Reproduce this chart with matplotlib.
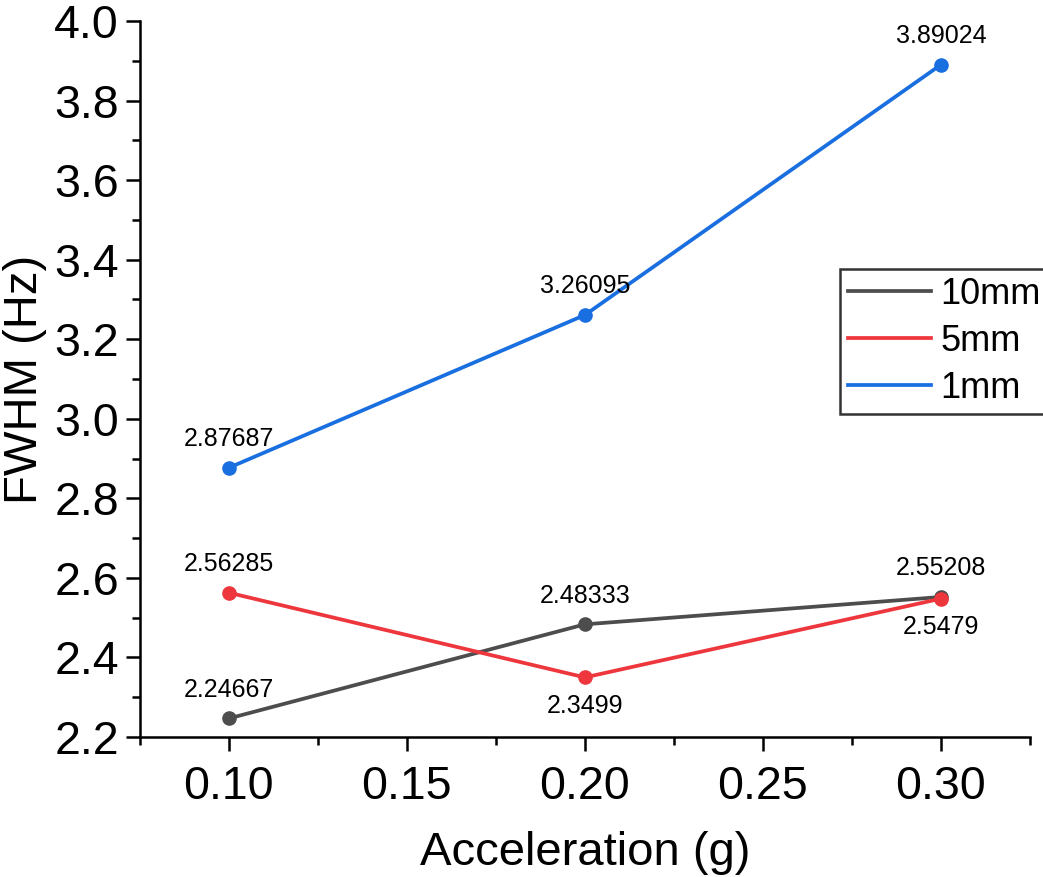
import matplotlib.pyplot as plt
from matplotlib.ticker import MultipleLocator

plt.rcParams['font.family'] = ['Liberation Sans', 'DejaVu Sans']

accel = [0.10, 0.20, 0.30]
fwhm_10mm = [2.24667, 2.48333, 2.55208]
fwhm_5mm = [2.56285, 2.3499, 2.5479]
fwhm_1mm = [2.87687, 3.26095, 3.89024]
labels = ["10mm", "5mm", "1mm"]
colors = ["#4d4d4d", "#ee363d", "#1a6fe0"]
# label placement: +1 above point, -1 below
label_side = [[1, 1, 1], [1, -1, -1], [1, 1, 1]]

fig = plt.figure(figsize=(10.43, 8.77), dpi=100)
ax = fig.add_axes([0.134, 0.1596, 0.8535, 0.8164])

for ys, lab, col, sides in zip([fwhm_10mm, fwhm_5mm, fwhm_1mm], labels, colors, label_side):
    ax.plot(accel, ys, color=col, lw=2.7, marker='o', ms=9.5, label=lab)
    for x, y, s in zip(accel, ys, sides):
        off = 12 if s > 0 else -12
        ax.annotate(f"{y:g}", (x, y), xytext=(0, off), textcoords='offset points',
                    ha='center', va='bottom' if s > 0 else 'top', fontsize=18)

ax.set_xlim(0.075, 0.325)
ax.set_ylim(2.2, 4.0)
ax.xaxis.set_major_locator(MultipleLocator(0.05))
ax.xaxis.set_minor_locator(MultipleLocator(0.025))
ax.yaxis.set_major_locator(MultipleLocator(0.2))
ax.yaxis.set_minor_locator(MultipleLocator(0.1))
ax.xaxis.set_major_formatter(plt.FormatStrFormatter('%.2f'))
ax.yaxis.set_major_formatter(plt.FormatStrFormatter('%.1f'))

for side in ['top', 'right']:
    ax.spines[side].set_visible(False)
for side in ['left', 'bottom']:
    ax.spines[side].set_linewidth(1.8)

ax.tick_params(which='major', direction='out', length=10, width=1.8, labelsize=33.5)
ax.tick_params(axis='x', which='major', pad=10)
ax.tick_params(axis='y', which='major', pad=5)
ax.tick_params(which='minor', direction='out', length=6, width=1.8)

ax.set_xlabel("Acceleration (g)", fontsize=34, labelpad=16)
ax.set_ylabel("FWHM (Hz)", fontsize=34, labelpad=5)

leg = ax.legend(loc='upper left', bbox_to_anchor=(0.787, 0.654), fontsize=26, frameon=True,
                fancybox=False, edgecolor='#333333', framealpha=1, handlelength=2.3,
                handletextpad=0.25, labelspacing=0.33, borderpad=0.22, borderaxespad=0)
leg.get_frame().set_linewidth(1.8)
for h in leg.legend_handles:
    h.set_marker('')

fig.savefig("out.png", dpi=100)
